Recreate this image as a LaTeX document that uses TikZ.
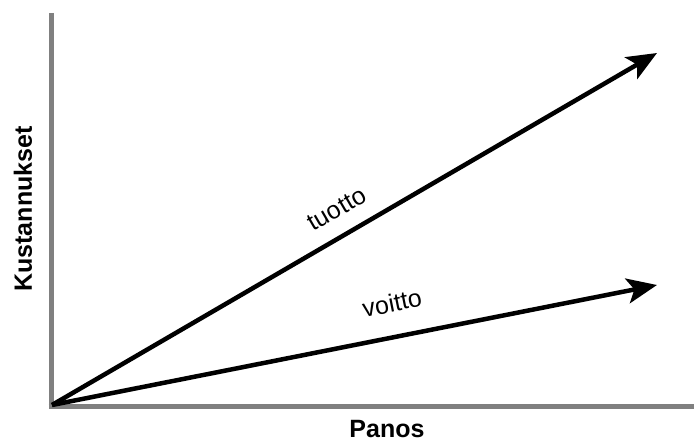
\documentclass[tikz,border=0pt]{standalone}
\usepackage{fontspec}
\setmainfont{Liberation Sans}
\usetikzlibrary{arrows.meta}
\definecolor{axisgray}{RGB}{128,128,128}
\tikzset{
  axisline/.style={draw=axisgray, line width=5bp},
  vec/.style={draw=black, line width=4.5bp, -{Stealth[length=30bp,width=25bp,inset=7bp]}},
  axislabel/.style={font=\fontsize{25bp}{29bp}\selectfont\bfseries, inner sep=0pt},
  veclabel/.style={font=\fontsize{25bp}{29bp}\selectfont, inner sep=0pt}
}
\begin{document}
\begin{tikzpicture}[x=1bp,y=-1bp]
\useasboundingbox (0,0) rectangle (694,441);
\coordinate (ytop) at (51,13);
\coordinate (ybot) at (51,409);
\coordinate (xleft) at (48.5,406.5);
\coordinate (xright) at (694,406.5);
\draw[axisline] (ytop) -- (ybot);
\draw[axisline] (xleft) -- (xright);
\coordinate (o) at (52,405);
\coordinate (t1) at (657,53);
\coordinate (t2) at (657,285);
\draw[vec] (o) -- (t1);
\draw[vec] (o) -- (t2);
\node[veclabel, rotate=30.2] (tuotto) at (337,209) {tuotto};
\node[veclabel, rotate=11.3] (voitto) at (392,303) {voitto};
\node[axislabel] (panos) at (387,429) {Panos};
\node[axislabel, rotate=90] (kust) at (23,209) {Kustannukset};
\end{tikzpicture}
\end{document}
